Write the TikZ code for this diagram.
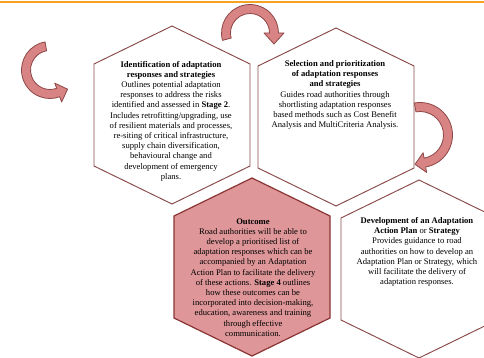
\documentclass[tikz,border=0pt]{standalone}
\usepackage{fontspec}
\setmainfont{Liberation Serif}
\usetikzlibrary{calc}

\definecolor{topbar}{HTML}{F5A21E}
\definecolor{celledge}{HTML}{8A4A4A}
\definecolor{outcomefill}{HTML}{DE9698}
\definecolor{outcomeedge}{HTML}{8A3434}
\definecolor{arrowfill}{HTML}{D88484}
\definecolor{arrowedge}{HTML}{8E4646}

\tikzset{
  cellframe/.style={draw=celledge, line width=0.95pt, fill=white, line join=miter},
  outcomeframe/.style={draw=outcomeedge, line width=1.2pt, fill=outcomefill, line join=miter},
  celltext/.style={align=center, inner sep=0pt, text=black,
    font=\fontsize{8.6}{10.2}\selectfont},
  blockarrow/.style={fill=arrowfill, draw=arrowedge, line width=0.8pt, line join=round},
}

% hexagonal cell: #1 style, #2 centre x, #3 top y
\newcommand\honeycell[3]{%
  \draw[#1] (#2,#3) -- (#2+78,#3+38) -- (#2+78,#3+140) -- (#2,#3+178)
    -- (#2-78,#3+140) -- (#2-78,#3+38) -- cycle;}

\begin{document}
\begin{tikzpicture}[x=1pt,y=-1pt]
  \useasboundingbox (0,0) rectangle (484,358);
  \clip (0,0) rectangle (484,358);
  \fill[white] (0,0) rectangle (484,358);

  % header rule
  \draw[topbar, line width=2.5pt] (0,2.2) -- (484,2.2);

  % cells
  \honeycell{cellframe}{172}{26}
  \honeycell{cellframe}{336}{28}
  \honeycell{outcomeframe}{252}{178}
  \honeycell{cellframe}{419}{180}

  % curved block arrows
  \coordinate (L) at (50,70);
  \coordinate (T) at (250,33);
  \coordinate (R) at (420,135);

  \filldraw[blockarrow] ($(L)+(-100:28.5)$) arc[start angle=-100, end angle=-290, radius=28.5]
    -- ($(L)+(70:34)$) -- (67.6,89.2) -- ($(L)+(70:14)$) -- ($(L)+(70:19.5)$)
    arc[start angle=-290, end angle=-100, radius=19.5] -- cycle;

  \filldraw[blockarrow] ($(T)+(165:28.5)$) arc[start angle=165, end angle=360, radius=28.5]
    -- ($(T)+(0:34)$) -- (274,44) -- ($(T)+(0:14)$) -- ($(T)+(0:19.5)$)
    arc[start angle=360, end angle=165, radius=19.5] -- cycle;

  \filldraw[blockarrow] ($(R)+(260:32.5)$) arc[start angle=260, end angle=440, radius=32.5]
    -- ($(R)+(80:38)$) -- (415,164.3) -- ($(R)+(80:18)$) -- ($(R)+(80:23.5)$)
    arc[start angle=440, end angle=260, radius=23.5] -- cycle;

  % cell texts
  \node[celltext] (identify) at (171,121) {%
    \textbf{Identification of adaptation}\\
    \textbf{responses and strategies}\\
    Outlines potential adaptation\\
    responses to address the risks\\
    identified and assessed in \textbf{Stage 2}.\\
    Includes retrofitting/upgrading, use\\
    of resilient materials and processes,\\
    re-siting of critical infrastructure,\\
    supply chain diversification,\\
    behavioural change and\\
    development of emergency\\
    plans.};

  \node[celltext] (select) at (335,95) {%
    \textbf{Selection and prioritization}\\
    \textbf{of adaptation responses}\\
    \textbf{and strategies}\\
    Guides road authorities through\\
    shortlisting adaptation responses\\
    based methods such as Cost Benefit\\
    Analysis and MultiCriteria Analysis.};

  \node[celltext] (outcome) at (253,277.5) {%
    \textbf{Outcome}\\
    Road authorities will be able to\\
    develop a prioritised list of\\
    adaptation responses which can be\\
    accompanied by an Adaptation\\
    Action Plan to facilitate the delivery\\
    of these actions. \textbf{Stage 4} outlines\\
    how these outcomes can be\\
    incorporated into decision-making,\\
    education, awareness and training\\
    through effective\\
    communication.};

  \node[celltext] (plan) at (417,252) {%
    \textbf{Development of an Adaptation}\\
    \textbf{Action Plan} or \textbf{Strategy}\\
    Provides guidance to road\\
    authorities on how to develop an\\
    Adaptation Plan or Strategy, which\\
    will facilitate the delivery of\\
    adaptation responses.};
\end{tikzpicture}
\end{document}
